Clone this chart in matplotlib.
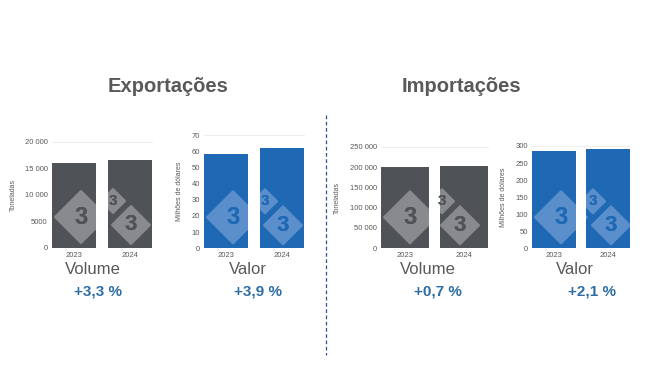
import matplotlib.pyplot as plt
from matplotlib.lines import Line2D
from matplotlib.patches import Polygon

plt.rcParams['font.family'] = ['Liberation Sans', 'DejaVu Sans']

# dados
anos = ['2023', '2024']
exp_volume = [16000, 16550]
exp_valor = [58.0, 62.2]
imp_volume = [200600, 201800]
imp_valor = [285, 291]

exp_vol_ticks = [0, 5000, 10000, 15000, 20000]
exp_vol_labels = ['0', '5000', '10 000', '15 000', '20 000']
exp_val_ticks = [0, 10, 20, 30, 40, 50, 60, 70]
imp_vol_ticks = [0, 50000, 100000, 150000, 200000, 250000]
imp_vol_labels = ['0', '50 000', '100 000', '150 000', '200 000', '250 000']
imp_val_ticks = [0, 50, 100, 150, 200, 250, 300]

variacoes = ['+3,3 %', '+3,9 %', '+0,7 %', '+2,1 %']
grupos = ['Volume', 'Valor', 'Volume', 'Valor']

CINZA = '#4f5257'
AZUL = '#1f69b4'
TEXTO = '#595959'
AZUL_TXT = '#2e6da4'

W, H = 650, 366
fig = plt.figure(figsize=(6.5, 3.66), dpi=100)

# (esquerda, topo, direita, base) em pixels
paineis = [
    (52, 141.7, 152, 248, exp_volume, CINZA, '#888a8e', exp_vol_ticks, exp_vol_labels, 'Toneladas'),
    (204, 135, 304, 248.3, exp_valor, AZUL, '#5b8fcc', exp_val_ticks,
     [str(t) for t in exp_val_ticks], 'Milhões de dólares'),
    (381, 146.7, 488, 248.3, imp_volume, CINZA, '#888a8e', imp_vol_ticks, imp_vol_labels, 'Toneladas'),
    (532, 146, 630, 248.3, imp_valor, AZUL, '#5b8fcc', imp_val_ticks,
     [str(t) for t in imp_val_ticks], 'Milhões de dólares'),
]
# posicao horizontal (px) dos rotulos abaixo de cada painel
x_grupo = [93, 248, 428, 575]
x_var = [97.5, 258, 437.5, 591.5]

# marca d'agua: (dx, dy, largura em px, tamanho da fonte)
marcas = [(29, 31, 52, 17), (79, 23, 38, 16), (61, 47, 24, 11)]

for i, (x0, y1, x1, y0, vals, cor, cor_wm, ticks, tlabels, ylab) in enumerate(paineis):
    ax = fig.add_axes([x0 / W, 1 - y0 / H, (x1 - x0) / W, (y0 - y1) / H])
    bars = ax.bar(range(len(anos)), vals, width=0.8, color=cor, zorder=2)
    ax.set_xlim(-0.4, 1.4)
    ax.set_ylim(0, ticks[-1])
    ax.set_yticks(ticks)
    ax.set_yticklabels(tlabels)
    ax.set_xticks(range(len(anos)))
    ax.set_xticklabels(anos)
    ax.tick_params(length=0, labelsize=5.5, labelcolor=TEXTO, pad=3)
    ax.set_ylabel(ylab, fontsize=5, color=TEXTO, labelpad=6)
    for s in ax.spines.values():
        s.set_visible(False)
    ax.axhline(ticks[-1], color='#eeeeee', lw=0.8, zorder=1, clip_on=False)

    aw, ah = x1 - x0, y0 - y1
    for dx, dy, lw_px, fs in marcas:
        fx, fy = dx / aw, dy / ah
        hx, hy = lw_px / 2 / aw, lw_px / 2 / ah
        for b in bars:
            p = Polygon([(fx - hx, fy), (fx, fy + hy), (fx + hx, fy), (fx, fy - hy)],
                        closed=True, facecolor=cor_wm, edgecolor=cor_wm, lw=1.5,
                        joinstyle='round', transform=ax.transAxes, zorder=3)
            ax.add_patch(p)
            p.set_clip_path(b)
            t = ax.text(fx, fy, '3', transform=ax.transAxes, ha='center', va='center',
                        fontsize=fs, fontweight='bold', color=cor, zorder=4)
            t.set_clip_path(b)

    fig.text(x_grupo[i] / W, 1 - 270 / H, grupos[i], ha='center', va='center',
             fontsize=12, color=TEXTO)
    fig.text(x_var[i] / W, 1 - 292 / H, variacoes[i], ha='center', va='center',
             fontsize=11, fontweight='bold', color=AZUL_TXT)

fig.text(168 / W, 1 - 87 / H, 'Exportações', ha='center', va='center',
         fontsize=14.5, fontweight='bold', color=TEXTO)
fig.text(461 / W, 1 - 87 / H, 'Importações', ha='center', va='center',
         fontsize=14.5, fontweight='bold', color=TEXTO)

fig.add_artist(Line2D([326 / W, 326 / W], [1 - 115 / H, 1 - 355 / H],
                      transform=fig.transFigure, color='#2f5597', lw=0.9,
                      linestyle=(0, (3, 2))))

fig.savefig('out.png', dpi=100, facecolor='white')
